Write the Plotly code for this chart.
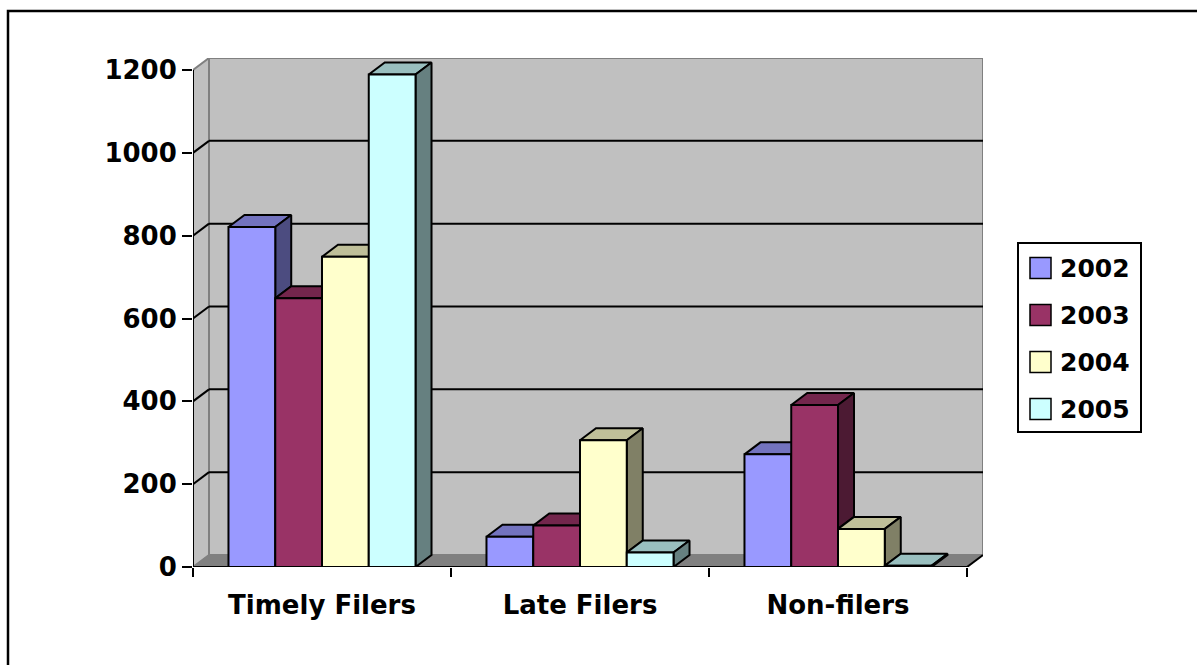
import plotly.graph_objects as go

# ---- data ----
categories = ["Timely Filers", "Late Filers", "Non-filers"]
years = ["2002", "2003", "2004", "2005"]
filers_2002 = [821, 73, 272]
filers_2003 = [649, 100, 391]
filers_2004 = [749, 306, 92]
filers_2005 = [1189, 35, 3]
y_ticks = [0, 200, 400, 600, 800, 1000, 1200]
front_colors = ["#9999FF", "#993366", "#FFFFCC", "#CCFFFF"]

series = [filers_2002, filers_2003, filers_2004, filers_2005]

# ---- geometry of the pseudo-3D projection ----
W, H = 1197, 665
ML, MR, MT, MB = 193, 214, 58, 98
PLOT_W, PLOT_H = W - ML - MR, H - MT - MB
DX = 0.062          # depth shift along x (category units)
DY = 29             # depth shift along y (value units)
GAP = 0.275         # gap between clusters
BAR_W = (1 - GAP) / len(years)
X0, X1 = -0.5, len(categories) - 0.5
YMAX = y_ticks[-1]

FONT = "DejaVu Sans"
WALL = "#C0C0C0"
EDGE = "#808080"


def shade(hexcol, k):
    h = hexcol.lstrip("#")
    r, g, b = (int(h[i:i + 2], 16) for i in (0, 2, 4))
    return "#%02X%02X%02X" % (round(r * k), round(g * k), round(b * k))


def fx(px):
    return (px - ML) / PLOT_W


def fy(py):
    return (H - MB - py) / PLOT_H


fig = go.Figure()

for j, (name, vals, col) in enumerate(zip(years, series, front_colors)):
    offset = -0.5 + GAP / 2 + j * BAR_W
    nxt = series[j + 1] if j + 1 < len(series) else [0] * len(vals)
    tx, ty, sx, sy = [], [], [], []
    for i, h in enumerate(vals):
        left = i + offset
        right = left + BAR_W
        tx += [left, left + DX, right + DX, right, left, None]
        ty += [h, h + DY, h + DY, h, h, None]
        base = nxt[i]
        if base < h:
            sx += [right, right, right + DX, right + DX, right, None]
            sy += [base, h, h + DY, base + DY, base, None]
    # top faces
    fig.add_trace(go.Scatter(
        x=tx, y=ty, fill="toself", fillcolor=shade(col, 0.75), mode="lines",
        line=dict(color="black", width=2), hoverinfo="skip",
        showlegend=False, zorder=2 * j))
    # side faces
    if sx:
        fig.add_trace(go.Scatter(
            x=sx, y=sy, fill="toself", fillcolor=shade(col, 0.5), mode="lines",
            line=dict(color="black", width=2), hoverinfo="skip",
            showlegend=False, zorder=2 * j))
    # front faces
    fig.add_trace(go.Bar(
        x=list(range(len(categories))), y=vals, width=BAR_W, offset=offset,
        marker=dict(color=col, line=dict(color="black", width=2)),
        name=name, showlegend=False, zorder=2 * j + 1))

shapes = []
# side wall
shapes.append(dict(
    type="path", xref="x", yref="y", layer="below",
    path=f"M{X0},0 L{X0},{YMAX} L{X0 + DX},{YMAX + DY} L{X0 + DX},{DY} Z",
    fillcolor=WALL, line=dict(color=EDGE, width=2)))
# back wall
shapes.append(dict(
    type="rect", xref="x", yref="y", layer="below",
    x0=X0 + DX, x1=X1 + DX, y0=DY, y1=YMAX + DY,
    fillcolor=WALL, line=dict(color=EDGE, width=2)))
# floor
shapes.append(dict(
    type="path", xref="x", yref="y", layer="below",
    path=f"M{X0},0 L{X0 + DX},{DY} L{X1 + DX},{DY} L{X1},0 Z",
    fillcolor=EDGE, line=dict(color=EDGE, width=1)))
# gridlines on back and side walls
for v in y_ticks[1:-1]:
    shapes.append(dict(type="line", xref="x", yref="y", layer="below",
                       x0=X0 + DX, x1=X1 + DX, y0=v + DY, y1=v + DY,
                       line=dict(color="black", width=2)))
    shapes.append(dict(type="line", xref="x", yref="y", layer="below",
                       x0=X0, x1=X0 + DX, y0=v, y1=v + DY,
                       line=dict(color="black", width=2)))
# front axis lines
shapes.append(dict(type="line", xref="x", yref="y", x0=X0, x1=X0, y0=0, y1=YMAX,
                   line=dict(color="black", width=2)))
shapes.append(dict(type="line", xref="x", yref="y", x0=X0, x1=X1, y0=0, y1=0,
                   line=dict(color="black", width=2)))
shapes.append(dict(type="line", xref="x", yref="y", x0=X1, x1=X1 + DX, y0=0, y1=DY,
                   line=dict(color="black", width=2)))

# chart-area frame (top and left edges)
shapes.append(dict(type="path", xref="paper", yref="paper",
                   path=f"M{fx(8)},{fy(H + 5)} L{fx(8)},{fy(11)} L{fx(W + 5)},{fy(11)}",
                   line=dict(color="black", width=2.5)))

# legend
shapes.append(dict(type="rect", xref="paper", yref="paper",
                   x0=fx(1018), x1=fx(1141), y0=fy(432), y1=fy(243),
                   line=dict(color="black", width=2), fillcolor="white"))
annotations = []
for k, (name, col) in enumerate(zip(years, front_colors)):
    cy = 268 + 47 * k
    shapes.append(dict(type="rect", xref="paper", yref="paper",
                       x0=fx(1030), x1=fx(1051), y0=fy(cy + 10.5), y1=fy(cy - 10.5),
                       fillcolor=col, line=dict(color="black", width=1.5)))
    annotations.append(dict(xref="paper", yref="paper", x=fx(1058), y=fy(cy),
                            xanchor="left", yanchor="middle", text=name, showarrow=False,
                            font=dict(family=FONT, size=25, weight="bold", color="black")))

fig.update_layout(
    width=W, height=H,
    margin=dict(l=ML, r=MR, t=MT, b=MB, autoexpand=False),
    paper_bgcolor="white", plot_bgcolor="rgba(0,0,0,0)",
    barmode="overlay", showlegend=False,
    shapes=shapes, annotations=annotations,
    xaxis=dict(range=[X0, X1 + DX], tickvals=list(range(len(categories))),
               ticktext=categories, ticks="outside", ticklen=15,
               tickcolor="rgba(0,0,0,0)", showgrid=False, zeroline=False,
               showline=False, fixedrange=True,
               minor=dict(tickmode="linear", tick0=X0, dtick=1, ticks="outside",
                          ticklen=9, tickwidth=2, tickcolor="black", showgrid=False),
               tickfont=dict(family=FONT, size=26, weight="bold", color="black")),
    yaxis=dict(range=[0, YMAX + DY], tickvals=y_ticks, ticks="outside", ticklen=10,
               tickwidth=2, tickcolor="black", showgrid=False, zeroline=False,
               showline=False, fixedrange=True,
               tickfont=dict(family=FONT, size=26, weight="bold", color="black")),
)

fig.write_html("out.html")
